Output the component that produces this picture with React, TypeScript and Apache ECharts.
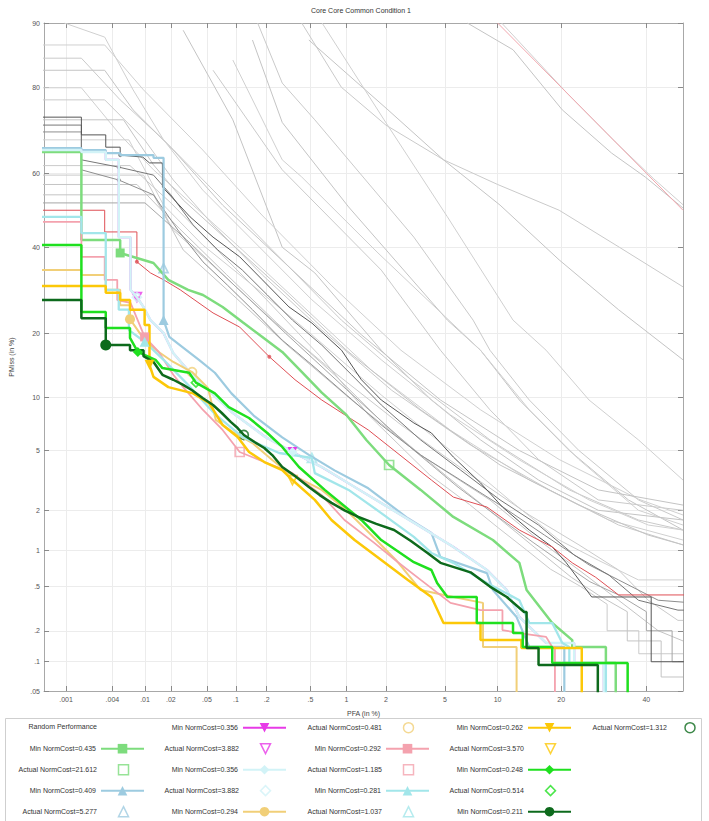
import React, { useEffect, useRef } from 'react';
import * as echarts from 'echarts';

const TITLE = 'Core Core Common Condition 1';
const X_NAME = 'PFA (in %)';
const Y_NAME = 'PMiss (in %)';
const xTicks = [0.001, 0.004, 0.01, 0.02, 0.05, 0.1, 0.2, 0.5, 1, 2, 5, 10, 20, 40];
const yTicks = [0.05, 0.1, 0.2, 0.5, 1, 2, 5, 10, 20, 40, 60, 80, 90];
const xRange = [0.0005, 50];
const yRange = [0.05, 90];

// ---- background (unlabelled) systems, [PFA %, PMiss %] ----
const gR1 = [[6.8, 90], [12, 86.4], [20.2, 75.4], [31.1, 65.2], [39.7, 59], [50, 50.6]];
const gR2 = [[10.5, 90], [21, 79], [32, 68], [42, 58.5], [50, 51.5]];
const g3 = [[0.42, 90], [0.91, 80], [2.0, 72], [4.9, 63.5], [10, 57], [19.6, 50], [33, 40], [50, 30]];
const g4 = [[0.485, 87.8], [2.07, 75.4], [4.89, 63.5], [10.3, 51.4], [19.6, 36.7], [32.8, 24.8], [50, 15.3]];
const g5 = [[0.63, 90], [1.94, 73.2], [5.17, 48.2], [12, 22.6], [17.2, 16.9], [25.8, 9.7], [37.9, 5.8], [50, 3.24]];
const g6 = [[0.164, 90], [0.28, 80.8], [0.546, 73.2], [3.14, 42.7], [7.34, 22.6], [9.1, 16.9], [14.4, 9.7], [23.6, 5.0], [37.9, 2.37], [50, 1.7]];
const g7 = [[0.146, 87.8], [0.28, 72.6], [1.04, 50.9], [5.17, 22.6], [8.08, 16.9], [12.9, 9.7], [21.6, 5.0], [35.3, 2.37], [50, 1.43]];
const g8 = [[0.093, 84.8], [0.28, 63.5], [0.42, 59], [1.75, 38.5], [8.08, 16.9], [14.4, 8.6], [23.6, 4.4], [37.9, 2.0], [50, 1.56]];
const g9 = [[0.058, 83.1], [0.28, 60.9], [1.85, 34.1], [4.68, 16.9], [9.1, 8.6], [15.9, 4.4], [27.9, 2.37], [50, 2.0]];
const g10 = [[0.0275, 89.1], [0.093, 73.2], [0.28, 40], [0.546, 33.4], [1.85, 16.9], [4.1, 9.7], [8.08, 5.8], [15.9, 3.24], [27.9, 2.0], [50, 1.7]];
const l1 = [[0.0003, 87.1], [0.0032, 87.1], [0.0096, 79.5], [0.045, 66], [0.18, 48.7], [0.75, 30.4], [2.56, 16.9], [8.08, 8.6], [19.6, 4.4], [37.9, 2.4], [50, 1.85]];
const l2 = [[0.0003, 85.1], [0.0016, 85.1], [0.005, 77.5], [0.0165, 68.5], [0.058, 55.5], [0.226, 39.3], [0.91, 22.6], [3.0, 12.3], [9.1, 5.8], [21.6, 2.78], [37.9, 1.7], [50, 1.43]];
const l3 = [[0.0003, 83.1], [0.0032, 83.1], [0.0072, 75.4], [0.0213, 66], [0.073, 51.4], [0.347, 34.1], [1.31, 19.7], [4.68, 9.7], [12.9, 5.0], [27.9, 2.78], [50, 2.18]];
const l4 = [[0.0003, 79.9], [0.0016, 79.9], [0.005, 69.7], [0.0126, 60.9], [0.0354, 51.4], [0.116, 39.3], [0.42, 25.8], [1.56, 13.7], [5.4, 6.6], [14.4, 3.24], [30.4, 1.7], [50, 1.2]];
const l5 = [[0.0003, 77.5], [0.0032, 77.5], [0.0099, 68.5], [0.0213, 58.2], [0.058, 46], [0.182, 32.9], [0.626, 20.6], [2.2, 10.9], [7.1, 5.4], [17.8, 2.78], [32.8, 1.56], [50, 1.1]];
const l6 = [[0.0003, 73.2], [0.0055, 73.2], [0.0126, 62.2], [0.0275, 52.8], [0.082, 41.9], [0.28, 29.3], [1.0, 16.9], [3.49, 8.6], [10.3, 4.06], [23.6, 2.18], [40.5, 1.31], [50, 1.1]];
const l7 = [[0.0003, 68.5], [0.0064, 68.5], [0.0165, 51.4], [0.045, 40.6], [0.146, 30.4], [0.515, 19.7], [1.85, 10.3], [5.4, 5.0], [11.5, 2.37], [19.6, 1.2], [27.9, 0.83], [37.9, 0.57], [50, 0.57]];
const l8 = [[0.0003, 59.5], [0.0096, 59.5], [0.0213, 44.6], [0.065, 34.1], [0.226, 22.6], [0.755, 13.7], [2.56, 7.1], [7.1, 3.5], [14.4, 1.85], [23.6, 1.1], [32.8, 0.69], [40.5, 0.38], [48.6, 0.25], [50, 0.25]];
const l9 = [[0.0003, 54.2], [0.0126, 54.2], [0.0275, 39.3], [0.093, 28.1], [0.31, 17.8], [1.1, 9.7], [3.49, 4.69], [9.1, 2.37], [15.9, 1.2], [23.6, 0.69], [32.8, 0.38], [43.2, 0.2], [50, 0.16]];
const l10 = [[0.00095, 90], [0.0032, 88.2], [0.0072, 79.5], [0.0165, 68.5], [0.045, 55.5], [0.146, 41.9], [0.515, 27], [1.85, 15.3], [5.4, 8.06], [12.9, 4.37], [25.8, 2.37], [40.5, 1.56], [50, 1.43]];
const t1 = [[0.0003, 62], [0.0066, 62], [0.02, 52], [0.06, 40], [0.2, 27], [0.6, 16], [1.5, 8], [4, 3.5], [7, 2.2], [10, 1.5], [14, 1.0], [18, 0.7], [24, 0.5], [30, 0.35], [30, 0.2], [38, 0.2], [38, 0.12], [50, 0.12]];
const t2 = [[0.0003, 57], [0.008, 57], [0.025, 45], [0.08, 33], [0.25, 22], [0.8, 13], [2, 7], [5, 3.5], [9, 2.0], [13, 1.3], [17, 0.9], [22, 0.6], [28, 0.42], [35, 0.3], [35, 0.16], [44, 0.16], [44, 0.07], [50, 0.07]];
const t3 = [[0.0003, 52], [0.01, 52], [0.03, 42], [0.1, 30], [0.3, 20], [1, 11], [3, 5.2], [6, 2.9], [10, 1.8], [15, 1.15], [20, 0.8], [26, 0.55], [33, 0.42], [40, 0.3], [40, 0.2], [47, 0.2], [47, 0.1], [50, 0.1]];
const d1 = [[0.0003, 73.8], [0.0016, 73.8], [0.0016, 69.7], [0.0033, 69.7], [0.0033, 66.7], [0.005, 66.7], [0.005, 64.7], [0.0094, 64.2], [0.0113, 62.7], [0.016, 62.7], [0.016, 56.3], [0.0328, 48.2], [0.058, 42.7], [0.109, 37.5], [0.182, 31.7], [0.323, 25.4], [0.515, 22.0], [0.913, 16.9], [1.31, 12.3], [1.85, 9.7], [3.14, 7.27], [4.1, 6.37], [5.62, 4.56], [8.08, 3.1], [10.6, 2.11], [14.4, 1.43], [18.3, 1.06], [21.0, 0.79], [26.4, 0.406], [41.3, 0.406], [41.3, 0.1], [60, 0.1]];
const d2 = [[0.0003, 72.0], [0.0016, 72.0], [0.0016, 63.5], [0.0048, 61.6], [0.0126, 59.5], [0.02, 54.2], [0.0354, 46], [0.065, 39.3], [0.116, 34.1], [0.203, 28.1], [0.347, 22.6], [0.626, 17.8], [1.1, 13.0], [1.85, 9.13], [3.49, 5.79], [6.2, 3.77], [10.3, 2.37], [15.9, 1.56], [22.6, 0.915], [30.4, 0.627], [37.9, 0.38], [48.6, 0.31], [60, 0.31]];
const d3 = [[0.0003, 70.4], [0.0016, 70.4], [0.0016, 60.9], [0.0048, 58.2], [0.0126, 54.2], [0.024, 44.6], [0.0453, 36.2], [0.082, 30.4], [0.146, 24.8], [0.28, 18.7], [0.515, 14.5], [1.0, 10.3], [1.85, 7.08], [3.49, 4.69], [6.2, 3.24], [10.3, 2.18], [16.9, 1.31], [25.8, 0.76], [32.8, 0.57], [43.2, 0.38], [60, 0.345]];
const darkMarks = [[0.005, 64.7], [0.0048, 61.6], [0.0048, 58.2]];
const redLine = [[0.0003, 50], [0.0032, 50], [0.0032, 44.1], [0.008, 44.1], [0.008, 36.2], [0.0116, 33.4], [0.0165, 31.7], [0.0255, 29.3], [0.058, 24.1], [0.109, 21.2], [0.212, 15.8], [0.366, 12.3], [0.626, 9.7], [1.48, 6.63], [4.1, 3.24], [5.62, 2.48], [8.77, 2.11], [12.9, 1.43], [18.3, 1.06], [22.2, 0.79], [27.3, 0.6], [32.8, 0.423], [60, 0.423]];
const redDots = [[0.008, 36.2], [0.212, 15.8]];

// ---- labelled systems ----
const randomPerf = [[10, 90], [20, 80], [30, 70], [40, 60], [50, 50]];

const lightGreen = [[0.0003, 65.5], [0.0016, 65.5], [0.0016, 41.9], [0.005, 41.9], [0.005, 38.5], [0.0126, 35.9], [0.0187, 31.7], [0.0312, 29.3], [0.0453, 28.1], [0.073, 25.4], [0.116, 22.2], [0.182, 19.3], [0.28, 16.6], [0.422, 13.4], [0.626, 10.6], [1.0, 8.06], [1.43, 5.79], [2.11, 4.06], [3.49, 2.78], [5.62, 1.79], [9.44, 1.2], [12.9, 0.79], [13.98, 0.467], [18.3, 0.236], [22.2, 0.163], [22.2, 0.14], [29.7, 0.14], [29.7, 0.097], [32.1, 0.097], [32.1, 0.03]];
const lightGreenMin = [0.005, 38.5];
const lightGreenAct = [2.11, 4.06];

const lightBlue = [[0.0003, 66.5], [0.0016, 66.5], [0.0016, 66.0], [0.0033, 66.0], [0.0033, 65.2], [0.005, 65.2], [0.005, 64.7], [0.0126, 64.7], [0.0126, 64.0], [0.0165, 64.0], [0.0165, 22.6], [0.0192, 19.3], [0.0268, 17.5], [0.041, 15.3], [0.0606, 13.3], [0.09, 10.5], [0.15, 8.0], [0.28, 6.0], [0.485, 4.7], [0.8, 3.75], [1.48, 2.85], [2.86, 1.75], [4.1, 1.36], [4.68, 0.88], [8.77, 0.65], [9.44, 0.467], [12.5, 0.268], [14.4, 0.14], [20.6, 0.14], [20.6, 0.03]];
const lightBlueMin = [0.0165, 22.6];
const lightBlueAct = [0.0165, 34.6];

const sys356 = [[0.0003, 66.0], [0.0016, 66.0], [0.0016, 65.5], [0.0033, 65.5], [0.0033, 63.5], [0.0048, 63.5], [0.0048, 42.7], [0.0067, 42.7], [0.0067, 29.3], [0.008, 27.6], [0.0096, 25.4], [0.0116, 22.6], [0.0165, 20.0], [0.0213, 16.4], [0.0328, 13.3], [0.093, 8.26], [0.194, 6.04], [0.347, 4.9], [0.626, 3.94], [1.16, 2.91], [2.07, 2.11], [3.49, 1.51], [5.62, 1.06], [8.77, 0.69], [11.16, 0.467], [12.9, 0.268], [17.2, 0.153], [22.6, 0.153], [22.6, 0.097], [29.2, 0.097], [29.2, 0.03]];
const sys356Min = [0.347, 4.9];
const sys356Act = [0.008, 27.6];

const tan = [[0.0003, 34.1], [0.0016, 34.1], [0.0016, 32.9], [0.0033, 32.9], [0.0033, 29.3], [0.005, 29.3], [0.005, 25.8], [0.0066, 25.8], [0.0066, 22.8], [0.0099, 18.7], [0.0145, 16.6], [0.0213, 14.95], [0.0345, 13.4], [0.0512, 11.2], [0.062, 7.56], [0.093, 6.45], [0.146, 5.55], [0.226, 4.37], [0.323, 3.6], [0.626, 2.78], [1.0, 2.0], [1.56, 1.31], [2.36, 0.834], [3.49, 0.467], [5.62, 0.406], [8.34, 0.36], [8.34, 0.14], [12.5, 0.14], [12.5, 0.03]];
const tanMin = [0.0066, 22.8];
const tanAct = [0.0345, 13.4];

const pink = [[0.0003, 46.8], [0.0016, 46.8], [0.0016, 37.5], [0.0032, 37.5], [0.0032, 31.7], [0.0046, 31.7], [0.0046, 26.95], [0.0067, 26.3], [0.0099, 19.3], [0.0145, 16.6], [0.0213, 13.0], [0.0275, 11.3], [0.0453, 8.58], [0.073, 6.63], [0.109, 4.9], [0.17, 4.37], [0.347, 3.6], [0.626, 2.56], [0.964, 1.7], [1.64, 1.14], [2.44, 0.8], [3.49, 0.57], [5.4, 0.36], [8.08, 0.31], [10.6, 0.31], [10.6, 0.203], [12.9, 0.19], [17.2, 0.175], [18.3, 0.14], [18.8, 0.14], [18.8, 0.03]];
const pinkMin = [0.0099, 19.3];
const pinkAct = [0.109, 4.9];

const cyan = [[0.0003, 48.2], [0.0016, 48.2], [0.0016, 43.8], [0.0033, 43.8], [0.0033, 29.3], [0.0048, 29.3], [0.0048, 24.8], [0.0064, 24.8], [0.0064, 20.6], [0.0099, 18.4], [0.0165, 15.3], [0.0312, 11.6], [0.062, 8.06], [0.116, 6.04], [0.262, 4.83], [0.515, 4.5], [0.546, 3.6], [1.04, 2.78], [1.85, 1.91], [3.14, 1.27], [4.1, 0.95], [5.62, 0.79], [8.77, 0.537], [12.9, 0.38], [14.4, 0.236], [18.3, 0.236], [20.2, 0.153], [21.6, 0.14], [21.6, 0.097], [29.7, 0.097], [29.7, 0.03]];
const cyanMin = [0.0099, 18.4];
const cyanAct = [0.515, 4.5];

const gold = [[0.0003, 30.2], [0.0033, 30.2], [0.0033, 28.6], [0.005, 28.6], [0.005, 26.95], [0.0066, 26.95], [0.0066, 24.8], [0.0099, 24.8], [0.0099, 21.6], [0.0113, 21.6], [0.0113, 14.5], [0.0126, 12.7], [0.0187, 11.3], [0.0354, 10.5], [0.0524, 9.36], [0.073, 7.08], [0.104, 6.04], [0.135, 4.9], [0.19, 4.24], [0.28, 3.77], [0.347, 3.24], [0.546, 2.37], [0.755, 1.7], [1.16, 1.2], [1.85, 0.834], [2.86, 0.57], [4.1, 0.406], [4.89, 0.236], [8.08, 0.236], [8.08, 0.163], [13.2, 0.163], [13.2, 0.137], [24.2, 0.137], [24.2, 0.03]];
const goldMin = [0.0113, 14.5];
const goldAct = [0.347, 3.24];

const brightGreen = [[0.0003, 40.6], [0.0016, 40.6], [0.0016, 24.3], [0.0033, 24.3], [0.0033, 21.0], [0.0066, 21.0], [0.0066, 19.1], [0.0082, 16.6], [0.0133, 15.3], [0.016, 14.0], [0.032, 13.3], [0.038, 11.9], [0.0606, 10.5], [0.0844, 8.9], [0.135, 7.75], [0.203, 6.37], [0.28, 5.26], [0.397, 3.94], [0.663, 2.78], [1.31, 1.7], [1.85, 1.2], [3.14, 0.8], [4.1, 0.69], [4.46, 0.537], [5.17, 0.406], [7.7, 0.406], [7.7, 0.236], [12, 0.236], [12, 0.19], [13.4, 0.19], [13.4, 0.14], [18.3, 0.14], [18.3, 0.097], [35.1, 0.097], [35.1, 0.03]];
const brightGreenMin = [0.0082, 16.6];
const brightGreenAct = [0.038, 11.9];

const darkGreen = [[0.0003, 26.95], [0.0016, 26.95], [0.0016, 23.0], [0.0033, 23.0], [0.0033, 17.8], [0.0066, 17.8], [0.0066, 16.9], [0.0096, 16.9], [0.0096, 15.9], [0.0126, 14.95], [0.016, 13.0], [0.0213, 12.3], [0.0275, 11.6], [0.0345, 10.9], [0.0453, 9.9], [0.058, 9.13], [0.0716, 8.26], [0.0884, 7.37], [0.104, 6.8], [0.12, 6.2], [0.153, 5.63], [0.19, 5.18], [0.226, 4.69], [0.28, 3.94], [0.366, 3.45], [0.485, 2.91], [0.602, 2.56], [0.755, 2.26], [0.964, 2.0], [1.24, 1.79], [1.7, 1.59], [2.29, 1.43], [3.0, 1.18], [3.87, 0.95], [4.68, 0.79], [7.1, 0.66], [9.1, 0.5], [11.16, 0.406], [13.6, 0.298], [13.98, 0.298], [13.98, 0.137], [15.9, 0.137], [15.9, 0.093], [27.8, 0.093], [27.8, 0.03]];
const darkGreenMin = [0.0033, 17.8];
const darkGreenAct = [0.12, 6.2];

// legend layout: columns of names, top to bottom
const legendCols = [
  ['Random Performance', 'Min NormCost=0.435', 'Actual NormCost=21.612', 'Min NormCost=0.409', 'Actual NormCost=5.277'],
  ['Min NormCost=0.356', 'Actual NormCost=3.882', 'Min NormCost=0.356 ', 'Actual NormCost=3.882 ', 'Min NormCost=0.294'],
  ['Actual NormCost=0.481', 'Min NormCost=0.292', 'Actual NormCost=1.185', 'Min NormCost=0.281', 'Actual NormCost=1.037'],
  ['Min NormCost=0.262', 'Actual NormCost=3.570', 'Min NormCost=0.248', 'Actual NormCost=0.514', 'Min NormCost=0.211'],
  ['Actual NormCost=1.312'],
];

const FONT = '"Liberation Sans", Arial, Helvetica, sans-serif';

const ICON: Record<string, string> = {
  rect: 'path://M0,0L10,0L10,10L0,10Z',
  triangle: 'path://M5,0L10,10L0,10Z',
  triangleDown: 'path://M0,0L10,0L5,10Z',
  diamond: 'path://M5,0L10,5L5,10L0,5Z',
  circle: 'path://M5,0A5,5,0,1,1,5,10A5,5,0,1,1,5,0Z',
  line: 'path://M0,0L100,0L100,0.1L0,0.1Z',
};

function probit(p: number): number {
  const a = [-3.969683028665376e+01, 2.209460984245205e+02, -2.759285104469687e+02, 1.383577518672690e+02, -3.066479806614716e+01, 2.506628277459239e+00];
  const b = [-5.447609879822406e+01, 1.615858368580409e+02, -1.556989798598866e+02, 6.680131188771972e+01, -1.328068155288572e+01];
  const c = [-7.784894002430293e-03, -3.223964580411365e-01, -2.400758277161838e+00, -2.549732539343734e+00, 4.374664141464968e+00, 2.938163982698783e+00];
  const d = [7.784695709041462e-03, 3.224671290700398e-01, 2.445134137142996e+00, 3.754408661907416e+00];
  const pl = 0.02425;
  if (p < pl) {
    const q = Math.sqrt(-2 * Math.log(p));
    return (((((c[0] * q + c[1]) * q + c[2]) * q + c[3]) * q + c[4]) * q + c[5]) / ((((d[0] * q + d[1]) * q + d[2]) * q + d[3]) * q + 1);
  }
  if (p <= 1 - pl) {
    const q = p - 0.5, r = q * q;
    return (((((a[0] * r + a[1]) * r + a[2]) * r + a[3]) * r + a[4]) * r + a[5]) * q / (((((b[0] * r + b[1]) * r + b[2]) * r + b[3]) * r + b[4]) * r + 1);
  }
  const q = Math.sqrt(-2 * Math.log(1 - p));
  return -(((((c[0] * q + c[1]) * q + c[2]) * q + c[3]) * q + c[4]) * q + c[5]) / ((((d[0] * q + d[1]) * q + d[2]) * q + d[3]) * q + 1);
}
const P = (pct: number) => probit(pct / 100);
const tr = (pts: number[][]) => pts.map(([x, y]) => [P(x), P(y)]);
const fmtTick = (v: number) => (v < 1 ? String(v).replace(/^0/, '') : String(v));

function grayLine(pts: number[][], color: string, width = 1): any {
  return { type: 'line', data: tr(pts), symbol: 'none', showSymbol: false, lineStyle: { color, width }, itemStyle: { color }, silent: true, clip: true };
}
function minLine(name: string, pts: number[][], mp: number[], color: string, width: number, symbol: string, rotate = 0, size = 10): any {
  return {
    name, type: 'line', data: tr(pts), symbol, symbolRotate: rotate, symbolSize: size, showSymbol: false,
    lineStyle: { color, width }, itemStyle: { color }, silent: true, clip: true,
    markPoint: { symbol, symbolSize: size, symbolRotate: rotate, silent: true, label: { show: false }, itemStyle: { color }, data: [{ coord: [P(mp[0]), P(mp[1])] }] },
  };
}
function actual(name: string, pt: number[], color: string, symbol: string, rotate = 0): any {
  return {
    name, type: 'scatter', data: tr([pt]), symbol, symbolRotate: rotate, symbolSize: 9, silent: true,
    itemStyle: { color: 'rgba(0,0,0,0)', borderColor: color, borderWidth: 1.7 },
  };
}

const C = {
  random: '#f2a7ae', lightGreen: '#7ddc7d', lightBlue: '#9dcbe0', magenta: '#e73be7', pale: '#d2f3f7',
  tan: '#f1cf78', pink: '#f4a2ae', cyan: '#a2e6ea', gold: '#fcc808', bright: '#1fe01f', dark: '#0d6a1c', red: '#df4f55',
};

const actualIcon: Record<string, string> = {
  'Actual NormCost=21.612': ICON.rect,
  'Actual NormCost=5.277': ICON.triangle,
  'Actual NormCost=3.882': ICON.triangleDown,
  'Actual NormCost=3.882 ': ICON.diamond,
  'Actual NormCost=0.481': ICON.circle,
  'Actual NormCost=1.185': ICON.rect,
  'Actual NormCost=1.037': ICON.triangle,
  'Actual NormCost=3.570': ICON.triangleDown,
  'Actual NormCost=0.514': ICON.diamond,
  'Actual NormCost=1.312': ICON.circle,
};

function buildOption(): any {
  const xTickZ = xTicks.map(P);
  const yTickZ = yTicks.map(P);
  const lab = (ticks: number[], zs: number[]) => (val: number) => {
    const i = zs.findIndex((z) => Math.abs(z - val) < 1e-6);
    return i >= 0 ? fmtTick(ticks[i]) : '';
  };
  const axisCommon = {
    type: 'value',
    axisLine: { show: true, onZero: false, lineStyle: { color: '#a8a8a8', width: 1 } },
  };
  const grays = [gR1, gR2, g3, g4, g5, g6, g7, g8, g9, g10, l1, l2, l3, l4, l5, l6, l7, l8, l9, l10, t1, t2];
  const series: any[] = [
    ...grays.map((g, i) => grayLine(g, i % 3 === 0 ? '#c4c4c4' : i % 3 === 1 ? '#d0d0d0' : '#cacaca')),
    grayLine(t3, '#a6a6a6'),
    grayLine(d3, '#8e8e8e'),
    grayLine(d2, '#777777'),
    grayLine(d1, '#555555'),
    { type: 'scatter', data: tr(darkMarks), symbol: 'circle', symbolSize: 4, itemStyle: { color: '#666' }, silent: true },
    grayLine(redLine, C.red),
    { type: 'scatter', data: tr(redDots), symbol: 'circle', symbolSize: 4, itemStyle: { color: C.red }, silent: true },
    { name: 'Random Performance', type: 'line', data: tr(randomPerf), symbol: 'none', showSymbol: false, lineStyle: { color: C.random, width: 1 }, itemStyle: { color: C.random }, silent: true, clip: true },
    minLine('Min NormCost=0.435', lightGreen, lightGreenMin, C.lightGreen, 2.5, 'rect', 0, 9),
    actual('Actual NormCost=21.612', lightGreenAct, C.lightGreen, 'rect'),
    minLine('Min NormCost=0.409', lightBlue, lightBlueMin, C.lightBlue, 2.2, 'triangle'),
    actual('Actual NormCost=5.277', lightBlueAct, C.lightBlue, 'triangle'),
    minLine('Min NormCost=0.356', sys356, sys356Min, C.magenta, 2, 'triangle', 180),
    actual('Actual NormCost=3.882', sys356Act, C.magenta, 'triangle', 180),
    minLine('Min NormCost=0.356 ', sys356, sys356Min, C.pale, 2.5, 'diamond'),
    actual('Actual NormCost=3.882 ', sys356Act, C.pale, 'diamond'),
    minLine('Min NormCost=0.294', tan, tanMin, C.tan, 2, 'circle'),
    actual('Actual NormCost=0.481', tanAct, C.tan, 'circle'),
    minLine('Min NormCost=0.292', pink, pinkMin, C.pink, 1.8, 'rect', 0, 9),
    actual('Actual NormCost=1.185', pinkAct, C.pink, 'rect'),
    minLine('Min NormCost=0.281', cyan, cyanMin, C.cyan, 2.3, 'triangle'),
    actual('Actual NormCost=1.037', cyanAct, C.cyan, 'triangle'),
    minLine('Min NormCost=0.262', gold, goldMin, C.gold, 2.5, 'triangle', 180),
    actual('Actual NormCost=3.570', goldAct, C.gold, 'triangle', 180),
    minLine('Min NormCost=0.248', brightGreen, brightGreenMin, C.bright, 2.5, 'diamond'),
    actual('Actual NormCost=0.514', brightGreenAct, C.bright, 'diamond'),
    minLine('Min NormCost=0.211', darkGreen, darkGreenMin, C.dark, 2.5, 'circle', 0, 11),
    actual('Actual NormCost=1.312', darkGreenAct, C.dark, 'circle'),
  ];
  const legendRights = [564, 422, 279, 137, 1];
  const legend: any[] = [];
  legendCols.forEach((col, ci) => {
    const iw = ci === 4 ? 36 : 43;
    col.forEach((name, ri) => {
      const cy = 727.7 + 21 * ri;
      const isAct = name.startsWith('Actual');
      const isRandom = name === 'Random Performance';
      const h = isAct ? 10 : 12;
      const top = isAct ? cy - 5.8 : isRandom ? cy - 4.6 : cy - 4.8;
      // square path icons sit centred in the icon box; shift so the icon centre lines up with the line icons
      const right = isAct ? legendRights[ci] + (iw - h) / 2 - 0.75 : legendRights[ci];
      const item: any = isAct
        ? { name, icon: actualIcon[name], itemStyle: { borderWidth: 1.5 } }
        : isRandom
          ? { name, icon: ICON.line, itemStyle: { borderWidth: 1 } }
          : name;
      legend.push({
        orient: 'horizontal', align: 'right', right, top, padding: 0,
        itemWidth: iw, itemHeight: h, selectedMode: false,
        formatter: (n: string) => n.trim(),
        textStyle: { fontSize: 7, color: '#333', fontFamily: FONT },
        data: [item],
      });
    });
  });
  return {
    animation: false,
    backgroundColor: '#ffffff',
    title: { text: TITLE, left: 361, top: 7, textAlign: 'center', padding: 0, textStyle: { fontSize: 7, fontWeight: 'normal', color: '#333', fontFamily: FONT } },
    grid: { left: 39, top: 23, right: 26, bottom: 130, containLabel: false },
    xAxis: [
      {
        ...axisCommon, position: 'bottom', min: P(xRange[0]), max: P(xRange[1]),
        name: X_NAME, nameLocation: 'middle', nameGap: 19, nameTextStyle: { fontSize: 7, color: '#444', fontFamily: FONT },
        axisTick: { show: true, inside: true, length: 5, customValues: xTickZ, lineStyle: { color: '#8a8a8a' } },
        axisLabel: { show: true, customValues: xTickZ, formatter: lab(xTicks, xTickZ), fontSize: 7, color: '#555', margin: 5, fontFamily: FONT },
        splitLine: { show: true, lineStyle: { color: '#ececec', width: 1 } },
      },
      {
        ...axisCommon, position: 'top', min: P(xRange[0]), max: P(xRange[1]),
        axisTick: { show: true, inside: true, length: 5, customValues: xTickZ, lineStyle: { color: '#8a8a8a' } },
        axisLabel: { show: false }, splitLine: { show: false },
      },
    ],
    yAxis: [
      {
        ...axisCommon, position: 'left', min: P(yRange[0]), max: P(yRange[1]),
        name: Y_NAME, nameLocation: 'middle', nameGap: 29, nameTextStyle: { fontSize: 7, color: '#444', fontFamily: FONT },
        axisTick: { show: true, inside: true, length: 5, customValues: yTickZ, lineStyle: { color: '#8a8a8a' } },
        axisLabel: { show: true, customValues: yTickZ, formatter: lab(yTicks, yTickZ), fontSize: 7, color: '#555', margin: 4, fontFamily: FONT },
        splitLine: { show: true, lineStyle: { color: '#ececec', width: 1 } },
      },
      {
        ...axisCommon, position: 'right', min: P(yRange[0]), max: P(yRange[1]),
        axisTick: { show: true, inside: true, length: 5, customValues: yTickZ, lineStyle: { color: '#8a8a8a' } },
        axisLabel: { show: false }, splitLine: { show: false },
      },
    ],
    legend,
    graphic: [
      { type: 'rect', silent: true, shape: { x: 5.5, y: 718.5, width: 696, height: 120 }, style: { fill: 'none', stroke: '#cfcfcf', lineWidth: 1 } },
    ],
    series,
  };
}

export default function App() {
  const ref = useRef<HTMLDivElement>(null);
  useEffect(() => {
    if (!ref.current) return;
    const chart = echarts.init(ref.current, null, { renderer: 'svg' });
    chart.setOption(buildOption());
    return () => chart.dispose();
  }, []);
  return <div ref={ref} style={{ position: 'absolute', left: 0, top: 0, width: 709, height: 821 }} />;
}
